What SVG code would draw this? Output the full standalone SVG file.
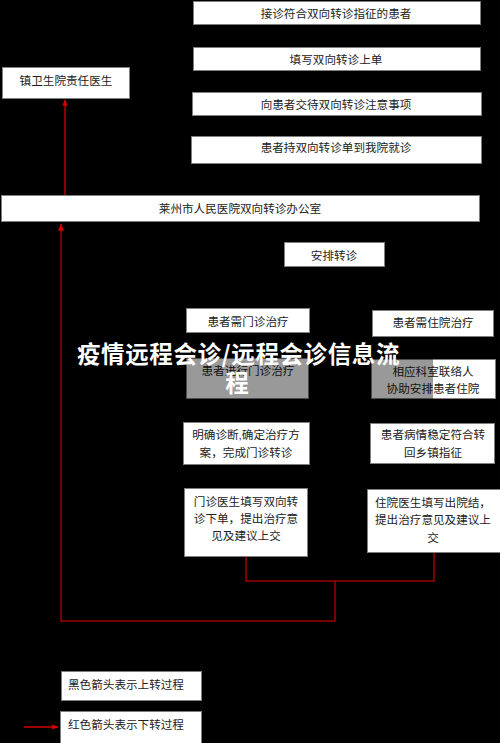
<svg xmlns="http://www.w3.org/2000/svg" width="500" height="743" viewBox="0 0 500 743">
<defs>
<style>
.bx{fill:#ffffff;stroke:#7f7f7f;stroke-width:1}
.t{font-family:"Liberation Sans","Noto Sans CJK SC",sans-serif;font-size:11.6px;fill:#222;text-anchor:middle;dominant-baseline:central}
.tl{text-anchor:start}
.blk{fill:none;stroke:#000;stroke-width:1}
.red1{fill:none;stroke:#d40000;stroke-width:1.3}
.red2{fill:none;stroke:#a00000;stroke-width:1.5}
.wm{font-family:"Noto Sans CJK SC",sans-serif;font-weight:bold;font-size:23.5px;fill:#ffffff}
</style>
<marker id="ar" viewBox="0 0 10 10" refX="9" refY="5" markerWidth="5" markerHeight="5" orient="auto"><path d="M0,1 L10,5 L0,9 z" fill="#d40000"/></marker>
<marker id="ab" viewBox="0 0 10 10" refX="9" refY="5" markerWidth="5" markerHeight="5" orient="auto"><path d="M0,1 L10,5 L0,9 z" fill="#000"/></marker>
</defs>
<rect x="0" y="0" width="500" height="743" fill="#000"/>

<g id="connectors">
<path class="blk" d="M336,25 V46" marker-end="url(#ab)"/>
<path class="blk" d="M336,71 V91" marker-end="url(#ab)"/>
<path class="blk" d="M336,116 V135" marker-end="url(#ab)"/>
<path class="blk" d="M336,164 V194" marker-end="url(#ab)"/>
<path class="blk" d="M334,222 V242" marker-end="url(#ab)"/>
<path class="blk" d="M334,267 V288 H248 V307" marker-end="url(#ab)"/>
<path class="blk" d="M334,288 H433 V309" marker-end="url(#ab)"/>
<path class="blk" d="M248,333 V357" marker-end="url(#ab)"/>
<path class="blk" d="M433,337 V358" marker-end="url(#ab)"/>
<path class="blk" d="M248,400 V421" marker-end="url(#ab)"/>
<path class="blk" d="M433,399 V422" marker-end="url(#ab)"/>
<path class="blk" d="M246,465 V487" marker-end="url(#ab)"/>
<path class="blk" d="M433,464 V488" marker-end="url(#ab)"/>
<path class="red1" d="M65,195 V100" marker-end="url(#ar)"/>
<path class="red2" d="M246,557 V581 H434 V553"/>
<path class="red2" d="M335,581 V621 H61 V224" marker-end="url(#ar)"/>
<path class="red1" d="M24,727 H58" marker-end="url(#ar)"/>
</g>

<g id="n1"><rect class="bx" x="193.5" y="1.5" width="287" height="23"/><text class="t" x="336" y="13">接诊符合双向转诊指征的患者</text></g>
<g id="n2"><rect class="bx" x="193.5" y="47.5" width="287" height="23"/><text class="t" x="336" y="59">填写双向转诊上单</text></g>
<g id="n3"><rect class="bx" x="192.5" y="92.5" width="289" height="23"/><text class="t" x="336" y="104">向患者交待双向转诊注意事项</text></g>
<g id="n4"><rect class="bx" x="191.5" y="136.5" width="290" height="27"/><text class="t" x="336" y="147">患者持双向转诊单到我院就诊</text></g>
<g id="n5"><rect class="bx" x="2.5" y="67.5" width="127" height="31"/><text class="t" x="66" y="80">镇卫生院责任医生</text></g>
<g id="n6"><rect class="bx" x="1.5" y="195.5" width="478" height="26"/><text class="t" x="240" y="208">莱州市人民医院双向转诊办公室</text></g>
<g id="n7"><rect class="bx" x="284.5" y="242.5" width="100" height="24"/><text class="t" x="334" y="255">安排转诊</text></g>
<g id="n8"><rect class="bx" x="186.5" y="308.5" width="123" height="24"/><text class="t" x="248" y="321">患者需门诊治疗</text></g>
<g id="n9"><rect class="bx" x="372.5" y="310.5" width="121" height="26"/><text class="t" x="433" y="322">患者需住院治疗</text></g>
<g id="n10"><rect class="bx" x="186.5" y="358.5" width="122" height="40"/><text class="t" x="248" y="370">患者进行门诊治疗</text></g>
<g id="n11"><rect class="bx" x="371.5" y="359.5" width="124" height="39"/><text class="t" x="433" y="371">相应科室联络人</text><text class="t" x="433" y="388">协助安排患者住院</text></g>
<g id="n12"><rect class="bx" x="183.5" y="422.5" width="126" height="42"/><text class="t" x="246" y="434">明确诊断,确定治疗方</text><text class="t" x="246" y="452">案，完成门诊转诊</text></g>
<g id="n13"><rect class="bx" x="370.5" y="423.5" width="124" height="40"/><text class="t" x="433" y="434">患者病情稳定符合转</text><text class="t" x="433" y="452">回乡镇指征</text></g>
<g id="n14"><rect class="bx" x="184.5" y="488.5" width="123" height="68"/><text class="t" x="246" y="501">门诊医生填写双向转</text><text class="t" x="246" y="518">诊下单，提出治疗意</text><text class="t" x="246" y="535">见及建议上交</text></g>
<g id="n15"><rect class="bx" x="367.5" y="489.5" width="134" height="63"/><text class="t" x="433" y="502">住院医生填写出院结，</text><text class="t" x="433" y="519">提出治疗意见及建议上</text><text class="t" x="433" y="537">交</text></g>
<g id="legend1"><rect class="bx" x="61.5" y="671.5" width="140" height="29"/><text class="t tl" x="68" y="684">黑色箭头表示上转过程</text></g>
<g id="legend2"><rect class="bx" x="60.5" y="711.5" width="141" height="32"/><text class="t tl" x="68" y="724">红色箭头表示下转过程</text></g>

<g id="watermark">
<rect x="70" y="341" width="363" height="60" fill="#000" fill-opacity="0.4"/>
<text class="wm" x="77" y="363" letter-spacing="0.6">疫情远程会诊/远程会诊信息流</text>
<text class="wm" x="237" y="392" text-anchor="middle">程</text>
</g>
</svg>
